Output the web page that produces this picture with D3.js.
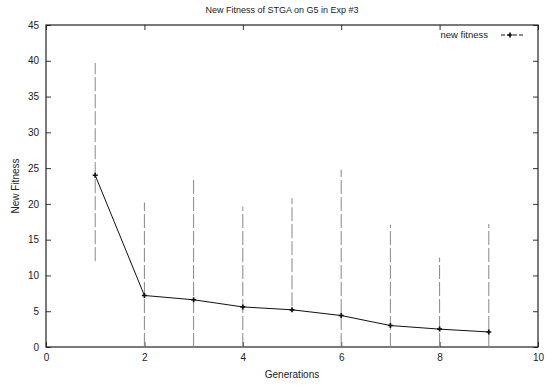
<!DOCTYPE html>
<html><head><meta charset="utf-8">
<script src="https://cdn.jsdelivr.net/npm/d3@7"></script>
<style>body{margin:0;background:#fff}svg{display:block}text{font-family:"Liberation Sans",Arial,sans-serif;fill:#222}</style>
</head><body>
<script>
const generations = [1,2,3,4,5,6,7,8,9];
const fitness = [24.0,7.2,6.6,5.6,5.2,4.4,3.0,2.5,2.1];
const errLow = [12.0,0,0,0,5.7,0,0,0,0];
const errHigh = [39.7,20.2,23.5,19.6,20.8,24.8,17.1,12.5,17.2];
const xTicks = [0,2,4,6,8,10];
const yTicks = [0,5,10,15,20,25,30,35,40,45];

const W=546,H=387;
const m={l:46,r:8,t:25,b:40};
const svg=d3.select("body").append("svg").attr("width",W).attr("height",H);
const x=d3.scaleLinear().domain([0,10]).range([m.l,W-m.r]);
const y=d3.scaleLinear().domain([0,45]).range([H-m.b,m.t]);
const fs="10px";

svg.append("text").attr("x",282).attr("y",13).attr("text-anchor","middle").style("font-size","9px").text("New Fitness of STGA on G5 in Exp #3");

const ax=svg.append("g").attr("transform",`translate(0,${y(0)})`).call(d3.axisTop(x).tickValues(xTicks).tickSize(5).tickFormat(""));
const axl=svg.append("g").attr("transform",`translate(0,${y(0)})`).call(d3.axisBottom(x).tickValues(xTicks).tickSize(0).tickPadding(7).tickFormat(d3.format("d")));
const axt=svg.append("g").attr("transform",`translate(0,${y(45)})`).call(d3.axisBottom(x).tickValues(xTicks).tickSize(5).tickFormat(""));
const ay=svg.append("g").attr("transform",`translate(${x(0)},0)`).call(d3.axisRight(y).tickValues(yTicks).tickSize(5).tickFormat(""));
const ayl=svg.append("g").attr("transform",`translate(${x(0)},0)`).call(d3.axisLeft(y).tickValues(yTicks).tickSize(0).tickPadding(7).tickFormat(d3.format("d")));
const ayr=svg.append("g").attr("transform",`translate(${x(10)},0)`).call(d3.axisLeft(y).tickValues(yTicks).tickSize(5).tickFormat(""));
[ax,axl,axt,ay,ayl,ayr].forEach(g=>{g.select(".domain").remove();g.selectAll("line").attr("stroke","#333");g.selectAll("text").style("font-size",fs).style("font-family","Liberation Sans, Arial, sans-serif").attr("fill","#222");});
svg.append("rect").attr("x",x(0)).attr("y",y(45)).attr("width",x(10)-x(0)).attr("height",y(0)-y(45)).attr("fill","none").attr("stroke","#222").attr("stroke-width",1.2);

svg.append("text").attr("x",(x(0)+x(10))/2).attr("y",378).attr("text-anchor","middle").style("font-size",fs).text("Generations");
svg.append("text").attr("transform",`translate(19,${(y(0)+y(45))/2}) rotate(-90)`).attr("text-anchor","middle").style("font-size",fs).text("New Fitness");

svg.append("g").selectAll("line").data(generations).join("line")
 .attr("x1",(d)=>x(d)).attr("x2",(d)=>x(d))
 .attr("y1",(d,i)=>y(errLow[i])).attr("y2",(d,i)=>y(errHigh[i]))
 .attr("stroke","#888").attr("stroke-width",1).attr("stroke-dasharray","14,3");

const line=d3.line().x((d,i)=>x(generations[i])).y(d=>y(d));
svg.append("path").datum(fitness).attr("d",line).attr("fill","none").attr("stroke","#111").attr("stroke-width",1);
svg.append("g").selectAll("path").data(fitness).join("path")
 .attr("d",d3.symbol(d3.symbolCross,14)).attr("transform",(d,i)=>`translate(${x(generations[i])},${y(d)})`).attr("fill","#111");

svg.append("text").attr("x",488).attr("y",38).attr("text-anchor","end").style("font-size","9.5px").text("new fitness");
svg.append("line").attr("x1",501).attr("x2",525).attr("y1",35).attr("y2",35).attr("stroke","#111").attr("stroke-dasharray","4,2");
svg.append("path").attr("d",d3.symbol(d3.symbolCross,14)).attr("transform","translate(510,35)").attr("fill","#111");
</script>
</body></html>
